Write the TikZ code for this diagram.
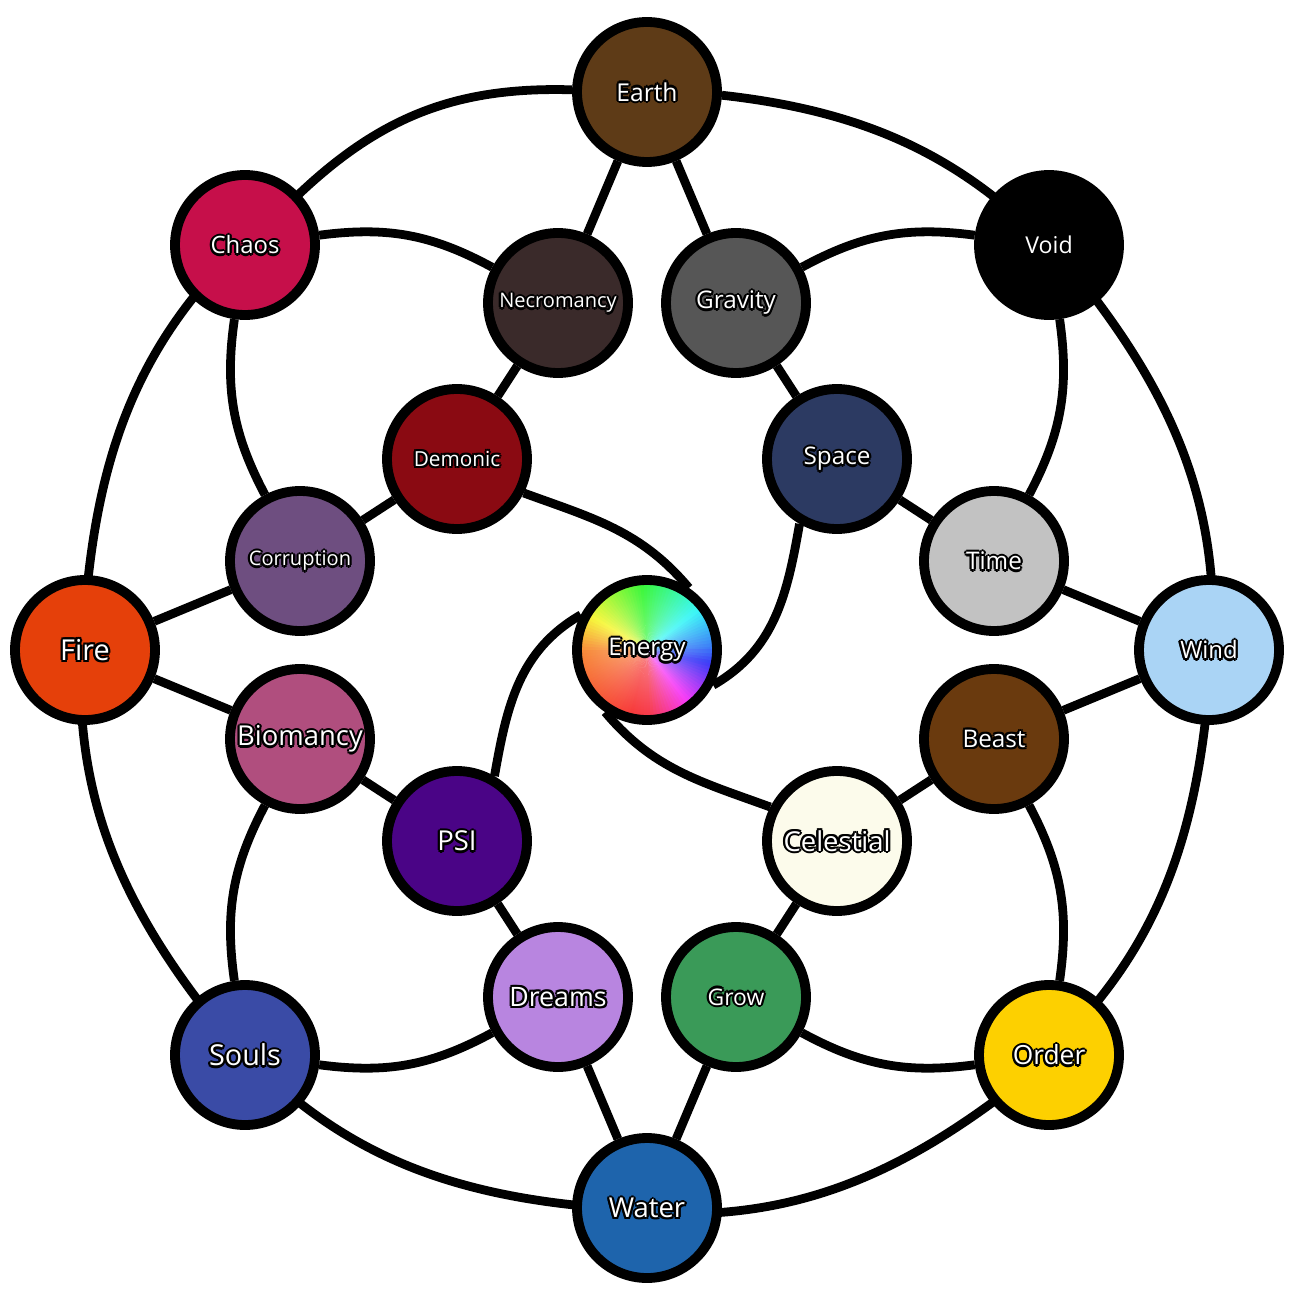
\documentclass[tikz,border=0pt]{standalone}
\usepackage{fontspec}
\setmainfont{Open Sans}
\usetikzlibrary{backgrounds,fadings}

\definecolor{earthc}{HTML}{5E3B17}
\definecolor{voidc}{HTML}{000000}
\definecolor{windc}{HTML}{AAD4F5}
\definecolor{orderc}{HTML}{FDD000}
\definecolor{waterc}{HTML}{1E64AC}
\definecolor{soulsc}{HTML}{3A4BA6}
\definecolor{firec}{HTML}{E5400A}
\definecolor{chaosc}{HTML}{C60F4A}
\definecolor{necroc}{HTML}{3A2A2A}
\definecolor{gravc}{HTML}{565656}
\definecolor{demonc}{HTML}{8A0A12}
\definecolor{spacec}{HTML}{2C3A62}
\definecolor{corrc}{HTML}{6E4E80}
\definecolor{timec}{HTML}{C2C2C2}
\definecolor{bioc}{HTML}{B04E7E}
\definecolor{beastc}{HTML}{6A3A0E}
\definecolor{psic}{HTML}{4A0486}
\definecolor{celesc}{HTML}{FCFBEB}
\definecolor{dreamc}{HTML}{B885E0}
\definecolor{growc}{HTML}{3A9A58}

\tikzfading[name=glow, inner color=transparent!0, outer color=transparent!100]

\newcommand{\olsh}[3]{\rlap{\kern#1\raisebox{#2}{\color{black}#3}}}
\newcommand{\olab}[1]{\olsh{-.65pt}{0pt}{#1}\olsh{.65pt}{0pt}{#1}\olsh{0pt}{.65pt}{#1}\olsh{0pt}{-.65pt}{#1}\olsh{-.46pt}{.46pt}{#1}\olsh{.46pt}{.46pt}{#1}\olsh{-.46pt}{-.46pt}{#1}\olsh{.46pt}{-.46pt}{#1}#1}

\begin{document}
\begin{tikzpicture}[
    ball/.style={circle, draw=black, line width=2.8pt, minimum size=1.4cm, inner sep=0pt, fill=#1, text=white},
    fs/.style={font=\fontsize{#1}{#1}\selectfont},
    link/.style={line width=2.5pt}]
    \useasboundingbox (0,0) rectangle (12.92,-12.97);
    \node[ball=earthc, fs=7] (earth) at (6.47,-0.92) {\olab{Earth}};
    \node[ball=voidc, fs=6.6] (void) at (10.49,-2.45) {\olab{Void}};
    \node[ball=windc, fs=6.8] (wind) at (12.09,-6.50) {\olab{Wind}};
    \node[ball=orderc, fs=7.5] (order) at (10.49,-10.55) {\olab{Order}};
    \node[ball=waterc, fs=7.8] (water) at (6.47,-12.08) {\olab{Water}};
    \node[ball=soulsc, fs=8.2] (souls) at (2.45,-10.55) {\olab{Souls}};
    \node[ball=firec, fs=8.2] (fire) at (0.85,-6.50) {\olab{Fire}};
    \node[ball=chaosc, fs=6.8] (chaos) at (2.45,-2.45) {\olab{Chaos}};
    \node[ball=necroc, fs=5.7] (necro) at (5.58,-3.03) {\olab{Necromancy}};
    \node[ball=gravc, fs=6.9] (grav) at (7.36,-3.03) {\olab{Gravity}};
    \node[ball=demonc, fs=5.9] (demonic) at (4.57,-4.59) {\olab{Demonic}};
    \node[ball=spacec, fs=6.9] (space) at (8.37,-4.59) {\olab{Space}};
    \node[ball=corrc, fs=5.7] (corr) at (3.00,-5.61) {\olab{Corruption}};
    \node[ball=timec, fs=6.9] (time) at (9.94,-5.61) {\olab{Time}};
    \node[ball=bioc, fs=7.8] (bio) at (3.00,-7.39) {\olab{Biomancy}};
    \node[ball=beastc, fs=6.9] (beast) at (9.94,-7.39) {\olab{Beast}};
    \node[ball=psic, fs=7.8] (psi) at (4.57,-8.41) {\olab{PSI}};
    \node[ball=celesc, fs=7.8] (celes) at (8.37,-8.41) {\olab{Celestial}};
    \node[ball=dreamc, fs=7.6] (dreams) at (5.58,-9.97) {\olab{Dreams}};
    \node[ball=growc, fs=6.5] (grow) at (7.36,-9.97) {\olab{Grow}};
    \node[ball=white, fs=6.9, path picture={
        \foreach \a in {0,3,...,357}{
            \pgfmathsetmacro{\hh}{mod(720+(\a<180 ? 220-\a/180*195 : (\a<270 ? 25-(\a-180)/3 : -5-(\a-270)*1.5)),360)}
            \definecolor{wheel}{Hsb}{\hh,0.8,0.97}
            \fill[wheel] (path picture bounding box.center) -- ++(\a:0.8)
                arc[start angle=\a, end angle=\a+4, radius=0.8] -- cycle;
        }
        \fill[white, opacity=0.4, path fading=glow] (path picture bounding box.center) circle (0.72);
        }] (energy) at (6.47,-6.50) {\olab{Energy}};
    \begin{pgfonlayer}{background}
        \draw[link] (earth) to[bend right=22.5] (chaos) to[bend right=22.5] (fire)
            to[bend right=22.5] (souls) to[bend right=22.5] (water) to[bend right=22.5] (order)
            to[bend right=22.5] (wind) to[bend right=22.5] (void) to[bend right=22.5] (earth);
        \draw[link] (earth) -- (necro);
        \draw[link] (earth) -- (grav);
        \draw[link] (necro) -- (demonic);
        \draw[link] (grav) -- (space);
        \draw[link] (demonic) -- (corr);
        \draw[link] (space) -- (time);
        \draw[link] (corr) -- (fire);
        \draw[link] (fire) -- (bio);
        \draw[link] (time) -- (wind);
        \draw[link] (wind) -- (beast);
        \draw[link] (bio) -- (psi);
        \draw[link] (beast) -- (celes);
        \draw[link] (psi) -- (dreams);
        \draw[link] (celes) -- (grow);
        \draw[link] (dreams) -- (water);
        \draw[link] (grow) -- (water);
        \draw[link] (chaos) to[bend left=18] (necro);
        \draw[link] (chaos) to[bend right=18] (corr);
        \draw[link] (void) to[bend right=18] (grav);
        \draw[link] (void) to[bend left=18] (time);
        \draw[link] (souls) to[bend left=18] (bio);
        \draw[link] (souls) to[bend right=18] (dreams);
        \draw[link] (order) to[bend right=18] (beast);
        \draw[link] (order) to[bend left=18] (grow);
        \draw[link] (demonic.-27) to[out=-20, in=130] (energy.56);
        \draw[link] (space.-120) to[out=-100, in=30] (energy.-28);
        \draw[link] (celes.153) to[out=160, in=-50] (energy.236);
        \draw[link] (psi.60) to[out=80, in=-150] (energy.152);
    \end{pgfonlayer}
\end{tikzpicture}
\end{document}
